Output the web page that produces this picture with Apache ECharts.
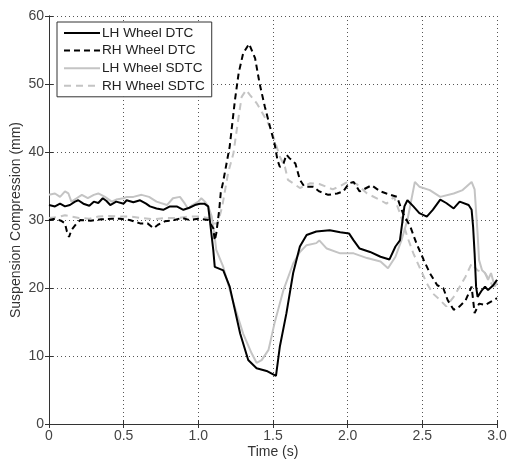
<!DOCTYPE html>
<html>
<head>
<meta charset="utf-8">
<script src="https://cdn.jsdelivr.net/npm/echarts@6/dist/echarts.min.js"></script>
<style>
  html, body { margin: 0; padding: 0; background: #fff; }
  #chart { width: 507px; height: 461px; }
</style>
</head>
<body>
<div id="chart"></div>
<script>
// Suspension compression traces, [time (s), compression (mm)]
const lhWheelDtc = [
  [0, 32.2], [0.04, 32.0], [0.074, 32.4], [0.107, 32.0], [0.14, 32.2], [0.174, 32.7], [0.196, 32.9],
  [0.23, 32.4], [0.27, 32.1], [0.30, 32.7], [0.33, 32.5], [0.36, 33.2], [0.385, 32.8], [0.41, 32.2],
  [0.45, 32.7], [0.50, 32.4], [0.52, 32.9], [0.565, 32.6], [0.61, 32.9], [0.65, 32.4], [0.676, 32.0],
  [0.72, 31.7], [0.765, 31.5], [0.81, 32.0], [0.855, 32.0], [0.90, 31.5], [0.94, 31.8], [0.977, 32.2],
  [1.01, 32.4], [1.04, 32.4], [1.066, 32.0], [1.077, 30.0], [1.09, 27.5], [1.10, 25.6], [1.11, 23.1],
  [1.167, 22.6], [1.21, 20.2], [1.28, 13.3], [1.334, 9.4], [1.39, 8.2], [1.457, 7.8], [1.52, 7.06],
  [1.546, 11.4], [1.59, 16.3], [1.635, 22.2], [1.68, 26.1], [1.725, 27.8], [1.79, 28.3], [1.88, 28.5],
  [1.95, 28.2], [2.01, 28.0], [2.04, 27.0], [2.08, 25.8], [2.15, 25.3], [2.22, 24.6], [2.28, 24.2],
  [2.32, 26.1], [2.35, 27.0], [2.38, 32.0], [2.40, 32.9], [2.44, 32.0], [2.48, 31.0], [2.53, 30.5],
  [2.57, 31.5], [2.62, 33.0], [2.66, 32.5], [2.71, 31.7], [2.75, 32.7], [2.81, 32.2], [2.83, 31.5],
  [2.84, 29.0], [2.85, 25.1], [2.86, 20.2], [2.87, 18.7], [2.90, 19.7], [2.92, 20.2], [2.94, 19.7],
  [2.975, 20.4], [3.0, 21.2]
];

const rhWheelDtc = [
  [0, 30.0], [0.04, 30.2], [0.08, 29.9], [0.107, 29.5], [0.12, 28.3], [0.134, 27.5], [0.15, 28.5],
  [0.185, 29.5], [0.21, 30.0], [0.28, 29.9], [0.35, 30.1], [0.42, 30.2], [0.475, 30.2], [0.54, 30.0],
  [0.61, 29.5], [0.66, 29.5], [0.70, 28.8], [0.73, 29.3], [0.776, 29.8], [0.84, 30.0], [0.89, 30.3],
  [0.94, 30.0], [1.0, 30.2], [1.066, 30.0], [1.10, 28.8], [1.11, 27.0], [1.12, 28.0], [1.14, 31.5],
  [1.15, 34.0], [1.165, 35.5], [1.21, 40.8], [1.245, 47.6], [1.27, 51.6], [1.30, 54.5], [1.34, 55.9],
  [1.38, 53.8], [1.41, 50.1], [1.445, 46.7], [1.48, 43.7], [1.51, 41.3], [1.53, 38.8], [1.546, 37.8],
  [1.57, 38.3], [1.59, 39.6], [1.61, 39.1], [1.65, 38.3], [1.68, 35.9], [1.71, 34.9], [1.77, 34.9],
  [1.81, 34.2], [1.87, 33.7], [1.93, 33.9], [1.97, 34.2], [2.01, 35.4], [2.04, 35.6], [2.08, 34.2],
  [2.16, 35.1], [2.22, 34.2], [2.26, 33.9], [2.33, 33.4], [2.37, 31.0], [2.42, 29.0], [2.46, 26.6],
  [2.51, 24.1], [2.55, 22.2], [2.60, 20.4], [2.64, 20.0], [2.67, 18.2], [2.71, 16.8], [2.75, 17.3],
  [2.79, 18.2], [2.83, 20.2], [2.85, 16.3], [2.88, 17.7], [2.92, 17.5], [2.96, 18.0], [3.0, 18.5]
];

const lhWheelSdtc = [
  [0, 33.7], [0.04, 33.9], [0.074, 33.4], [0.107, 34.2], [0.13, 33.9], [0.15, 32.7], [0.185, 33.2],
  [0.22, 33.7], [0.26, 33.2], [0.30, 33.7], [0.33, 33.9], [0.375, 33.4], [0.42, 32.7], [0.45, 33.0],
  [0.50, 33.2], [0.52, 33.4], [0.565, 33.4], [0.62, 33.7], [0.67, 33.4], [0.72, 32.7], [0.79, 32.2],
  [0.83, 33.2], [0.877, 33.4], [0.91, 32.4], [0.93, 31.7], [0.96, 32.2], [1.0, 32.7], [1.02, 33.2],
  [1.044, 32.7], [1.066, 32.0], [1.09, 30.5], [1.11, 27.5], [1.12, 25.6], [1.167, 23.1], [1.23, 18.2],
  [1.30, 13.3], [1.357, 10.4], [1.39, 9.0], [1.424, 9.4], [1.47, 10.9], [1.51, 14.8], [1.57, 19.7],
  [1.635, 23.6], [1.68, 25.3], [1.725, 26.3], [1.79, 26.6], [1.81, 27.0], [1.86, 25.8], [1.95, 25.1],
  [2.04, 25.1], [2.13, 24.4], [2.22, 23.9], [2.27, 22.9], [2.32, 24.6], [2.36, 27.0], [2.40, 30.0],
  [2.45, 35.6], [2.48, 34.9], [2.55, 34.4], [2.62, 33.4], [2.71, 33.9], [2.77, 34.4], [2.83, 35.6],
  [2.85, 34.5], [2.87, 28.0], [2.88, 24.1], [2.90, 22.6], [2.92, 22.2], [2.94, 21.2], [2.96, 22.2],
  [2.985, 20.2], [3.0, 20.8]
];

const rhWheelSdtc = [
  [0, 30.3], [0.05, 30.4], [0.107, 30.7], [0.15, 30.5], [0.2, 30.3], [0.27, 30.2], [0.33, 30.5],
  [0.4, 30.6], [0.5, 30.5], [0.55, 30.5], [0.62, 30.3], [0.7, 30.1], [0.78, 30.3], [0.86, 30.3],
  [0.93, 30.5], [1.0, 30.5], [1.066, 30.3], [1.10, 29.5], [1.13, 29.5], [1.16, 32.0], [1.20, 37.0],
  [1.235, 39.8], [1.27, 45.2], [1.29, 48.1], [1.32, 49.1], [1.345, 48.4], [1.39, 47.2], [1.43, 45.7],
  [1.48, 43.7], [1.51, 41.8], [1.546, 39.3], [1.58, 37.8], [1.60, 35.9], [1.635, 35.4], [1.68, 34.7],
  [1.75, 35.4], [1.81, 35.3], [1.90, 34.5], [1.95, 35.0], [2.0, 35.6], [2.06, 35.3], [2.13, 33.9],
  [2.22, 32.9], [2.26, 32.4], [2.31, 33.4], [2.35, 31.0], [2.40, 27.5], [2.44, 25.1], [2.48, 23.1],
  [2.53, 20.7], [2.57, 19.2], [2.62, 18.2], [2.66, 17.3], [2.71, 18.7], [2.75, 20.2], [2.79, 21.7],
  [2.83, 23.6], [2.87, 22.6], [2.92, 22.2], [2.975, 20.2], [3.0, 21.0]
];

const seriesNames = ['LH Wheel DTC', 'RH Wheel DTC', 'LH Wheel SDTC', 'RH Wheel SDTC'];
const xTickLabels = ['0', '0.5', '1.0', '1.5', '2.0', '2.5', '3.0'];

const FONT = 'Liberation Sans, Arial, sans-serif';
const chart = echarts.init(document.getElementById('chart'), null, { renderer: 'canvas' });

const boxAxisLine = { show: true, lineStyle: { color: '#333', width: 1 } };
const innerTick = { show: true, inside: true, length: 4, lineStyle: { color: '#333' } };
const dottedGrid = { show: true, lineStyle: { color: '#555', type: [1, 3], width: 1 } };

function lineSeries(name, data, color, dash, z) {
  return {
    name, type: 'line', data, xAxisIndex: 0, yAxisIndex: 0,
    symbol: 'none', smooth: false, z,
    lineStyle: { color, width: 2, type: dash },
    itemStyle: { color }
  };
}

chart.setOption({
  animation: false,
  backgroundColor: '#fff',
  textStyle: { fontFamily: FONT },
  grid: { left: 49, right: 10, top: 16, bottom: 37, containLabel: false, outerBoundsMode: 'none' },
  legend: {
    data: seriesNames,
    orient: 'vertical',
    left: 57, top: 22,
    padding: [4, 7, 4, 6],
    itemWidth: 36, itemHeight: 12, itemGap: 3.6,
    itemStyle: { opacity: 0 },
    backgroundColor: '#fff',
    borderColor: '#333', borderWidth: 1, borderRadius: 0,
    textStyle: { fontFamily: FONT, fontSize: 13.6, color: '#222', padding: [0, 0, 0, -3] }
  },
  xAxis: [
    {
      type: 'value', min: 0, max: 3, interval: 0.5, position: 'bottom',
      name: 'Time (s)', nameLocation: 'middle', nameGap: 21, nameMoveOverlap: false,
      nameTextStyle: { fontFamily: FONT, fontSize: 14, color: '#333' },
      axisLine: boxAxisLine, axisTick: innerTick, splitLine: dottedGrid,
      axisLabel: {
        fontFamily: FONT, fontSize: 14, color: '#444', margin: 5,
        formatter: v => xTickLabels[Math.round(v / 0.5)]
      }
    },
    {
      type: 'value', min: 0, max: 3, interval: 0.5, position: 'top',
      axisLine: boxAxisLine, axisTick: innerTick, splitLine: { show: false },
      axisLabel: { show: false }
    }
  ],
  yAxis: [
    {
      type: 'value', min: 0, max: 60, interval: 10, position: 'left',
      name: 'Suspension Compression (mm)', nameLocation: 'middle', nameGap: 26, nameMoveOverlap: false,
      nameTextStyle: { fontFamily: FONT, fontSize: 14, color: '#333' },
      axisLine: boxAxisLine, axisTick: innerTick, splitLine: dottedGrid,
      axisLabel: { fontFamily: FONT, fontSize: 14, color: '#444', margin: 5 }
    },
    {
      type: 'value', min: 0, max: 60, interval: 10, position: 'right',
      axisLine: boxAxisLine, axisTick: innerTick, splitLine: { show: false },
      axisLabel: { show: false }
    }
  ],
  series: [
    lineSeries(seriesNames[2], lhWheelSdtc, '#c4c4c4', 'solid', 2),
    lineSeries(seriesNames[3], rhWheelSdtc, '#c4c4c4', [7, 5], 2),
    lineSeries(seriesNames[0], lhWheelDtc, '#000', 'solid', 3),
    lineSeries(seriesNames[1], rhWheelDtc, '#000', [6, 4], 3)
  ]
});
</script>
</body>
</html>
